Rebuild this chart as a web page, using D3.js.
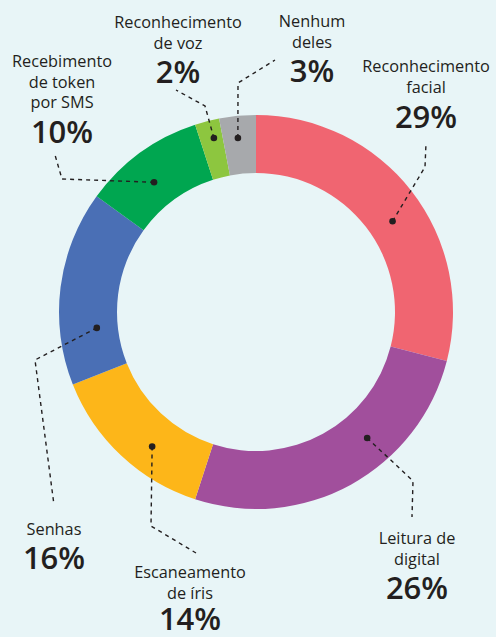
<!DOCTYPE html>
<html><head><meta charset="utf-8">
<script src="https://cdn.jsdelivr.net/npm/d3@7"></script>
<style>
html,body{margin:0;padding:0;background:#e8f5f7;}
svg{display:block;}
text{font-family:"Open Sans",sans-serif;fill:#231f20;}
</style></head><body>
<svg id="c" width="496" height="637"></svg>
<script>
const categories = ["Reconhecimento facial","Leitura de digital","Escaneamento de íris","Senhas","Recebimento de token por SMS","Reconhecimento de voz","Nenhum deles"];
const values = [29, 26, 14, 16, 10, 2, 3];
const labelLines = [["Reconhecimento","facial"],["Leitura de","digital"],["Escaneamento","de íris"],["Senhas"],["Recebimento","de token","por SMS"],["Reconhecimento","de voz"],["Nenhum","deles"]];
const colors = ["#f06571","#a14f9c","#fdb619","#4a6fb5","#00a650","#8dc63f","#a7a9ac"];

const W=496,H=637,cx=256,cy=312,R=197,r0=139;
const svg=d3.select("#c");
svg.append("rect").attr("width",W).attr("height",H).attr("fill","#e8f5f7");
const g=svg.append("g").attr("transform",`translate(${cx},${cy})`);
const data=categories.map((c,i)=>({c,v:values[i],col:colors[i],lines:labelLines[i]}));
const pie=d3.pie().value(d=>d.v).sort(null);
const arcs=pie(data);
const arc=d3.arc().innerRadius(r0).outerRadius(R);
g.selectAll("path.s").data(arcs).join("path").attr("class","s").attr("d",arc).attr("fill",d=>d.data.col);

// label layout: dot position within arc (fraction of angle, radius), label center x, first baseline y, pct baseline y, leader bend/end points
const layout=[
 {f:0.54,r:164,x:426,y:72,py:128,pts:[[425,167],[426,143]]},
 {f:0.365,r:168,x:417,y:544,py:599,pts:[[413,481],[412,517]]},
 {f:0.39,r:170,x:190,y:578,py:630,pts:[[151,526],[196,553]]},
 {f:0.276,r:160,x:54,y:535,py:569,pts:[[35,360],[54,505]]},
 {f:0.44,r:165,x:62,y:67,py:143,pts:[[62,179],[55,155]]},
 {f:0.61,r:179,x:178,y:28,py:83,pts:[[205,106],[176,90]]},
 {f:0.45,r:175,x:312,y:27,py:82,pts:[[238,83],[275,60]]}
];
const line=d3.line();
arcs.forEach((a,i)=>{
  const L=layout[i];
  const ang=a.startAngle+L.f*(a.endAngle-a.startAngle);
  const p0=[cx+L.r*Math.sin(ang),cy-L.r*Math.cos(ang)];
  svg.append("path").attr("d",line([p0,...L.pts])).attr("fill","none")
    .attr("stroke","#231f20").attr("stroke-width",1.4).attr("stroke-dasharray","4,4");
  svg.append("circle").attr("cx",p0[0]).attr("cy",p0[1]).attr("r",3.3).attr("fill","#231f20");
  const t=svg.append("g");
  a.data.lines.forEach((s,j)=>{
    t.append("text").attr("x",L.x).attr("y",L.y+j*20.5).attr("text-anchor","middle")
     .attr("font-size",16.3).attr("font-weight",500).text(s);
  });
  t.append("text").attr("x",L.x).attr("y",L.py).attr("text-anchor","middle")
   .attr("font-size",31).attr("font-weight",600).text(a.data.v+"%");
});
</script></body></html>
